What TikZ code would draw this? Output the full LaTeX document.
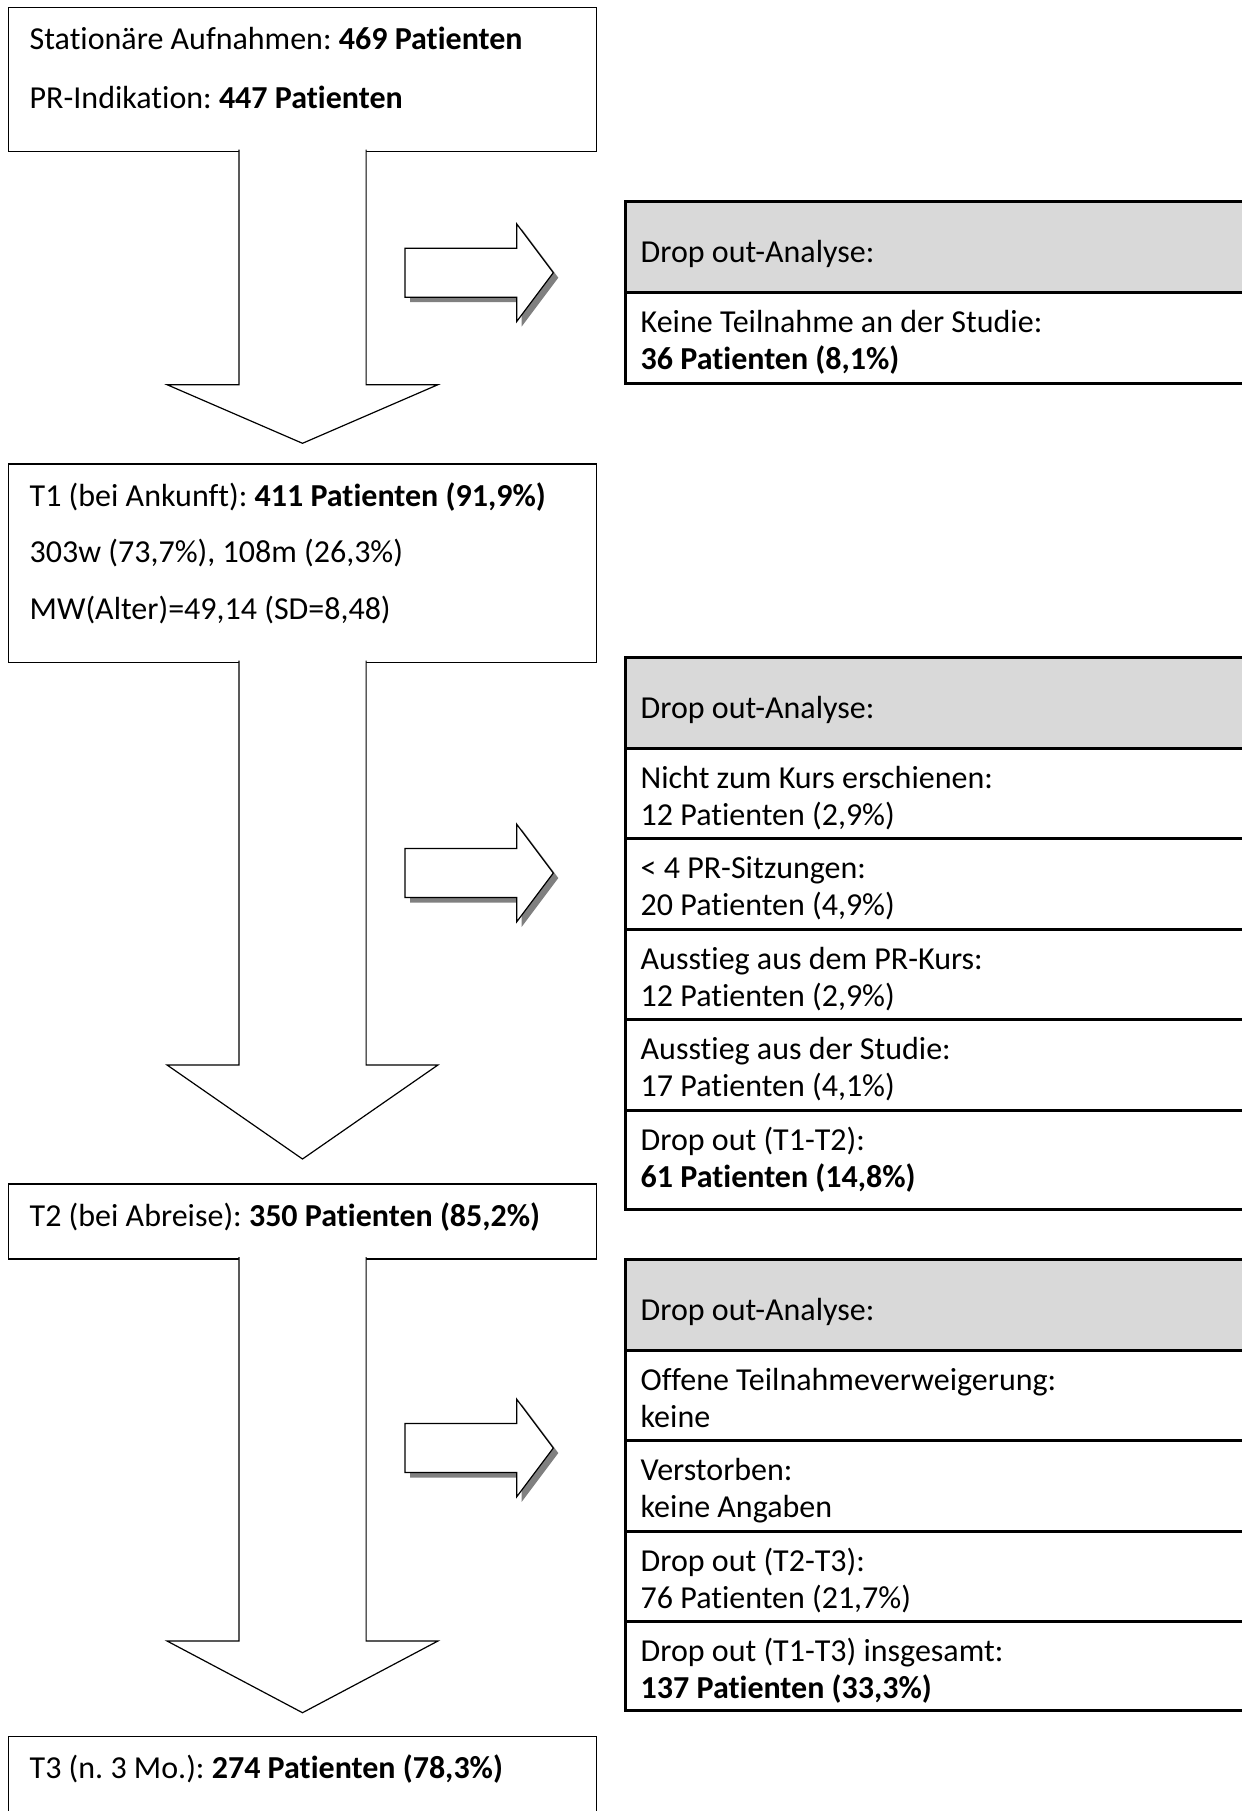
\documentclass[tikz,border=0pt]{standalone}
\usepackage{fontspec}
\setmainfont{Carlito}[Ligatures=NoCommon]
\usepackage{xcolor}
\usepackage{tikz}
\usetikzlibrary{calc, positioning}
\frenchspacing

\definecolor{kopfgrau}{HTML}{D9D9D9}
\definecolor{schattengrau}{HTML}{808080}

\begin{document}
\begin{tikzpicture}[x=0.5pt, y=-0.5pt,
		stufe/.style={draw, line width=0.65pt, anchor=north west, outer sep=0pt, inner xsep=10.5pt, inner ysep=5pt, text height=16pt, text width=272.8pt, align=flush left, font=\fontsize{16}{26.5}\selectfont},
		analyse/.style={draw, line width=1.5pt, fill=kopfgrau, anchor=north west, outer sep=0pt, inner xsep=7.85pt, inner ysep=0pt, text height=30.5pt, text depth=15pt, text width=330pt, align=flush left, font=\fontsize{16}{18.5}\selectfont},
		grund/.style={draw, line width=1.5pt, outer sep=0pt, inner xsep=7.85pt, inner ysep=0pt, text height=20pt, text depth=25.25pt, text width=330pt, align=flush left, font=\fontsize{16}{18.5}\selectfont},
		blockpfeil/.style={draw, fill=white, line width=0.6pt},
		seitenpfeil/.style={draw, fill=white, line width=0.6pt},
		schatten/.style={fill=schattengrau}]
				% Rahmen:
				\useasboundingbox (0,0) rectangle (1242,1811);
				\fill[white] (0,0) rectangle (1242,1811);
				\clip (0,0) rectangle (1242,1811);
				% Stufen links:
				\node[stufe, text depth=46.2pt] (b1) at (8.7,7.3) {Stationäre Aufnahmen: \textbf{469 Patienten}\\[3pt] PR-Indikation: \textbf{447 Patienten}};
				\node[stufe, text depth=73.35pt] (t1) at (8.7,464) {T1 (bei Ankunft): \textbf{411 Patienten (91,9\%)}\\[1.8pt] 303w (73,7\%), 108m (26,3\%)\\[1.8pt] MW(Alter)=49,14 (SD=8,48)};
				\node[stufe, text depth=11.5pt] (t2) at (8.7,1184) {T2 (bei Abreise): \textbf{350 Patienten (85,2\%)}};
				\node[stufe, text depth=60pt] (t3) at (8.7,1736.7) {T3 (n. 3 Mo.): \textbf{274 Patienten (78,3\%)}};
				% Drop out rechts:
				\node[analyse] (analyseA) at (625,201.5) {Drop out-Analyse:};
				\node[grund, below=0pt of analyseA] (keineTeilnahme) {Keine Teilnahme an der Studie:\\ \textbf{36 Patienten (8,1\%)}};
				\node[analyse] (analyseB) at (625,657.3) {Drop out-Analyse:};
				\node[grund, below=0pt of analyseB] (nichtErschienen) {Nicht zum Kurs erschienen:\\ 12 Patienten (2,9\%)};
				\node[grund, below=0pt of nichtErschienen] (wenigSitzungen) {< 4 PR-Sitzungen:\\ 20 Patienten (4,9\%)};
				\node[grund, below=0pt of wenigSitzungen] (ausstiegKurs) {Ausstieg aus dem PR-Kurs:\\ 12 Patienten (2,9\%)};
				\node[grund, below=0pt of ausstiegKurs] (ausstiegStudie) {Ausstieg aus der Studie:\\ 17 Patienten (4,1\%)};
				\node[grund, below=0pt of ausstiegStudie, text depth=29.7pt] (dropB) {Drop out (T1-T2):\\ \textbf{61 Patienten (14,8\%)}};
				\node[analyse] (analyseC) at (625,1259) {Drop out-Analyse:};
				\node[grund, below=0pt of analyseC] (verweigerung) {Offene Teilnahmeverweigerung:\\ keine};
				\node[grund, below=0pt of verweigerung] (verstorben) {Verstorben:\\ keine Angaben};
				\node[grund, below=0pt of verstorben] (dropC) {Drop out (T2-T3):\\ 76 Patienten (21,7\%)};
				\node[grund, below=0pt of dropC, text depth=24.5pt] (dropGesamt) {Drop out (T1-T3) insgesamt:\\ \textbf{137 Patienten (33,3\%)}};
				% Pfeile nach unten:
				\foreach \von/\nach/\kopf/\spitze in {b1/t1/79.3/20.7, t1/t2/119/25, t2/t3/95.7/24}
					\draw[blockpfeil] ($(\von.south)+(-63.6,-2)$) |- ($(\nach.north)+(-135.4,-\kopf)$) -- ($(\nach.north)+(0,-\spitze)$) -- ($(\nach.north)+(135.4,-\kopf)$) -| ($(\von.south)+(63.6,-2)$);
				% Pfeile nach rechts:
				\foreach \m in {272.7, 873, 1448}{
					\fill[schatten, xshift=2.5pt, yshift=-2.5pt] (405,\m-24.5) -- (516.7,\m-24.5) -- (516.7,\m-48.8) -- (553.3,\m) -- (516.7,\m+48.8) -- (516.7,\m+24.5) -- (405,\m+24.5) -- cycle;
					\draw[seitenpfeil] (405,\m-24.5) -- (516.7,\m-24.5) -- (516.7,\m-48.8) -- (553.3,\m) -- (516.7,\m+48.8) -- (516.7,\m+24.5) -- (405,\m+24.5) -- cycle;
				}
			\end{tikzpicture}
\end{document}
